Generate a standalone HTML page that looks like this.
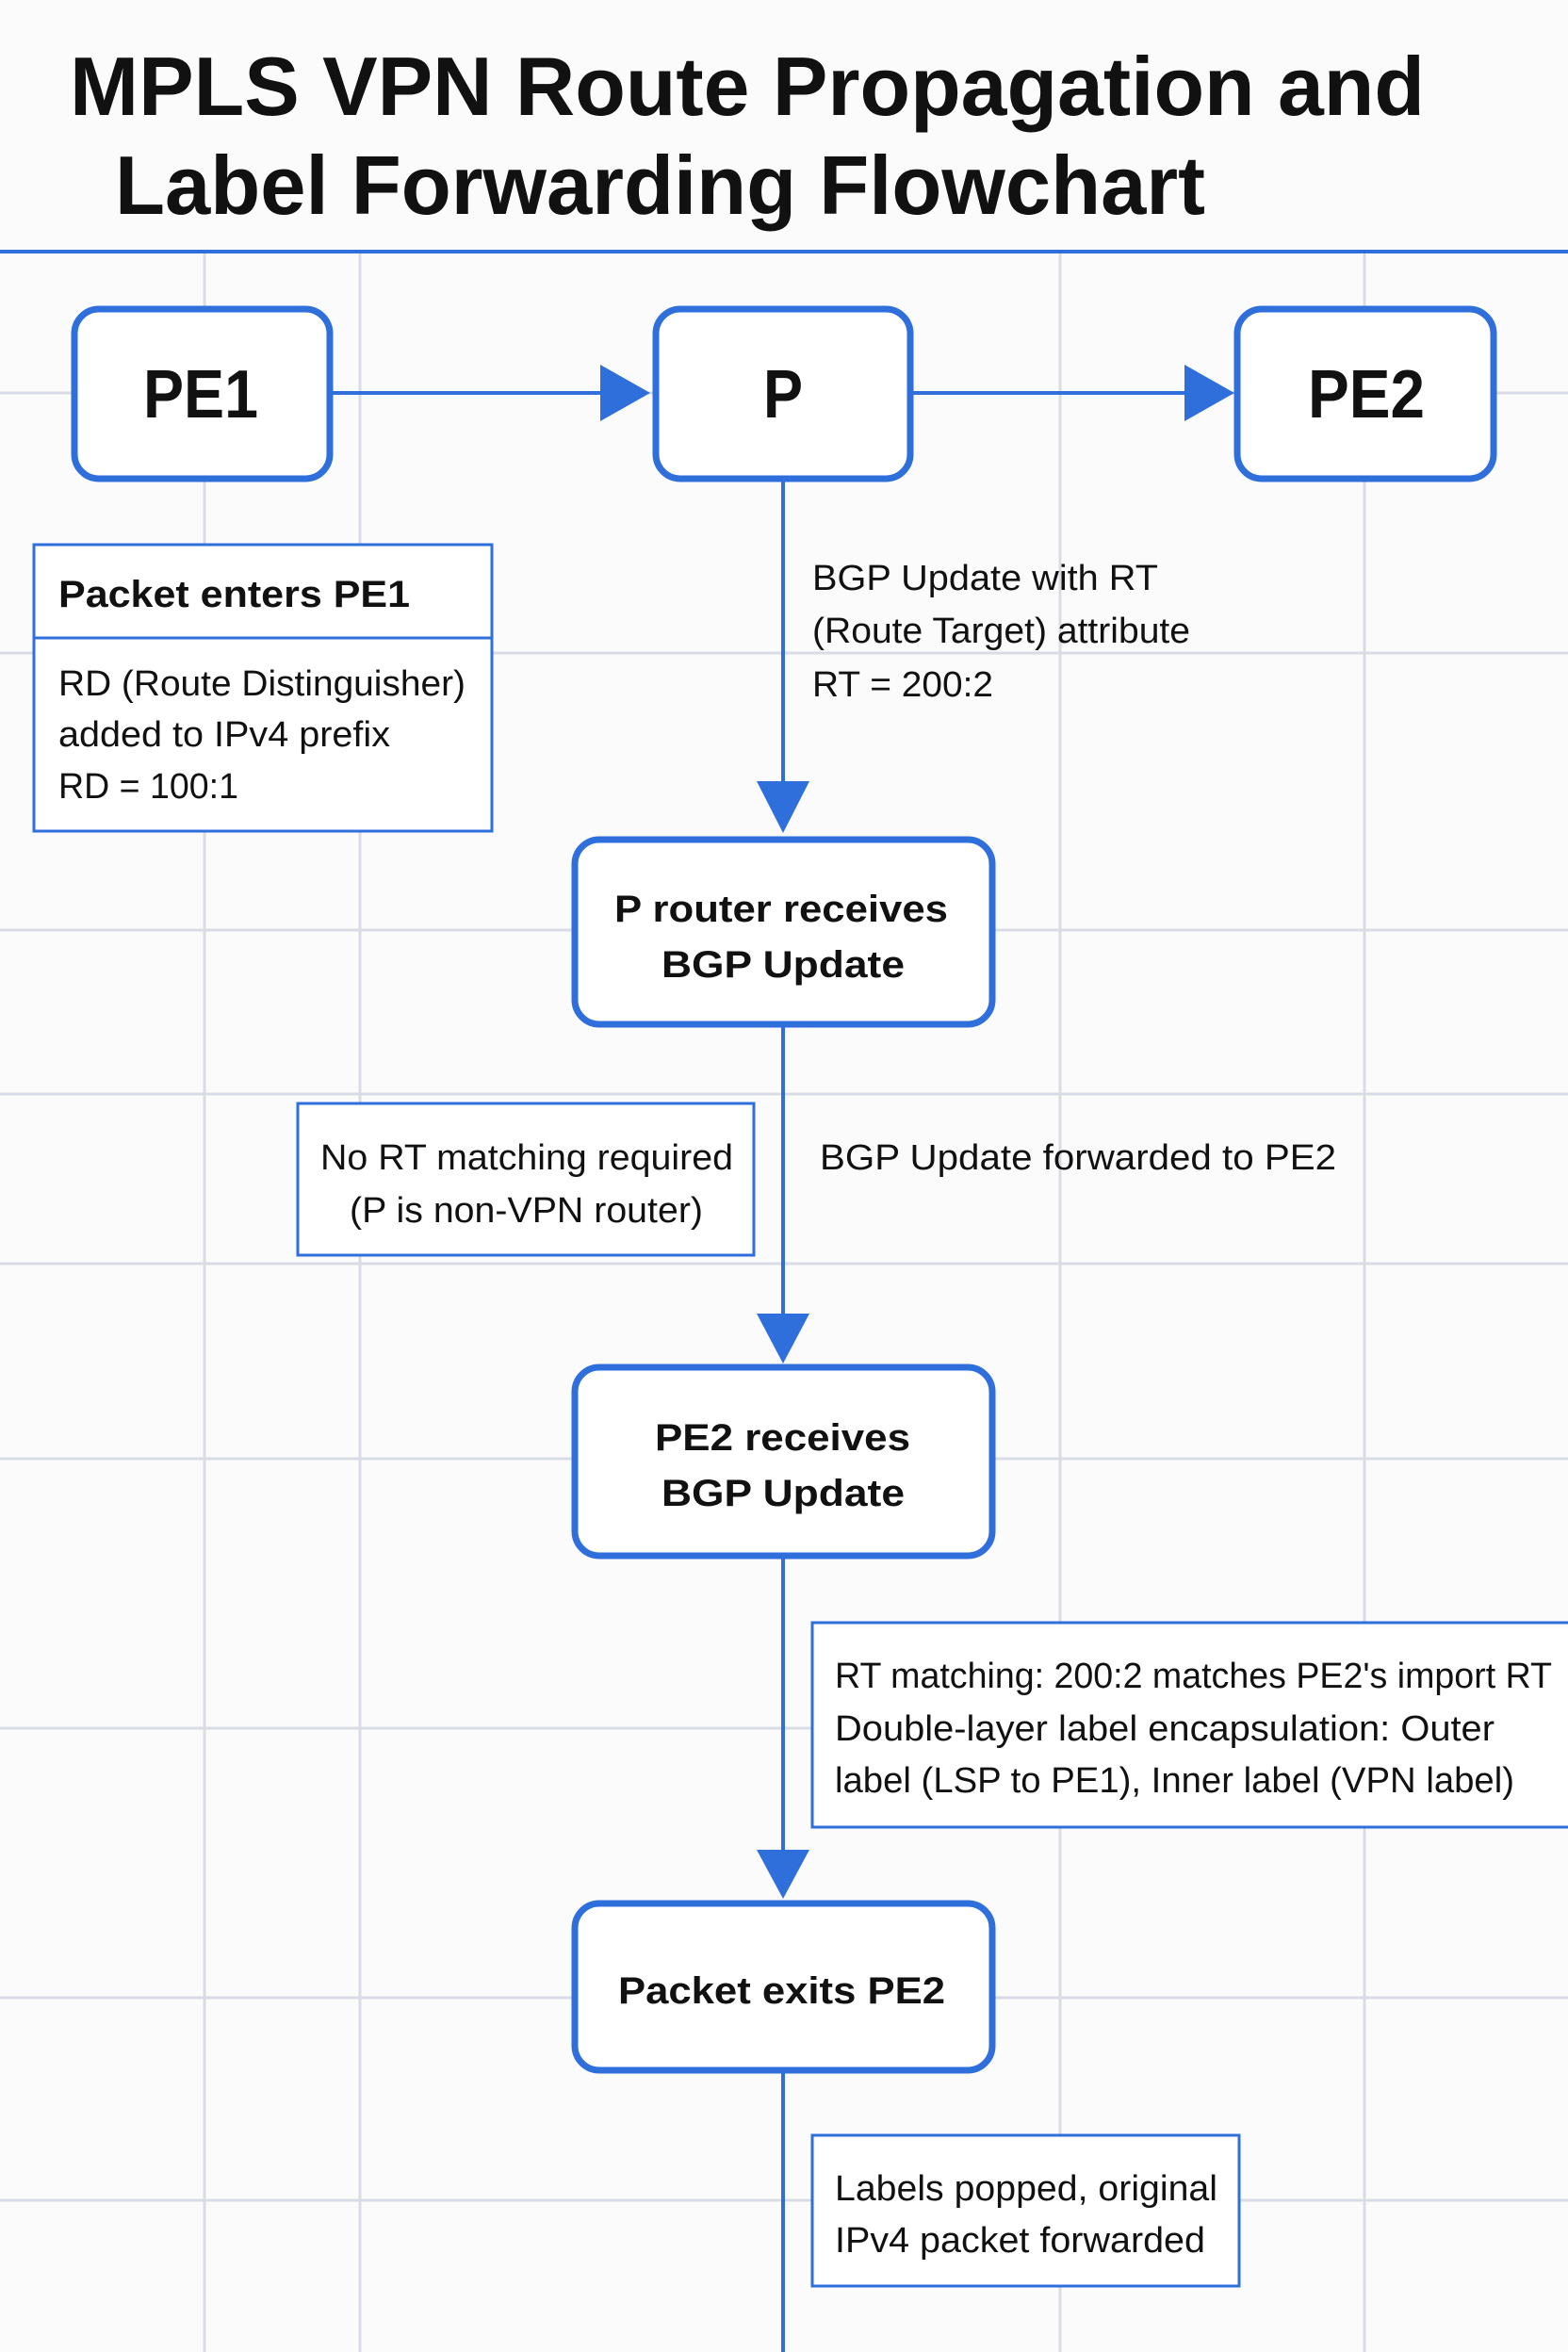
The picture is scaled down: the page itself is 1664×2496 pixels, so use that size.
<!DOCTYPE html>
<html><head><meta charset="utf-8"><style>
html,body{margin:0;padding:0;background:#fbfbfb}
svg{display:block}
text{font-family:"Liberation Sans",Arial,sans-serif;fill:#111}
.b{font-weight:bold}
</style></head><body>
<svg width="1664" height="2496" viewBox="0 0 1664 2496" xmlns="http://www.w3.org/2000/svg">
<rect width="1664" height="2496" fill="#fbfbfb"/>
<g stroke="#d9dce4" stroke-width="3">
<line x1="217" y1="267" x2="217" y2="2496"/>
<line x1="382" y1="267" x2="382" y2="2496"/>
<line x1="1125" y1="267" x2="1125" y2="2496"/>
<line x1="1448" y1="267" x2="1448" y2="2496"/>
<line x1="0" y1="417" x2="1664" y2="417"/>
<line x1="0" y1="693" x2="1664" y2="693"/>
<line x1="0" y1="987" x2="1664" y2="987"/>
<line x1="0" y1="1161" x2="1664" y2="1161"/>
<line x1="0" y1="1341" x2="1664" y2="1341"/>
<line x1="0" y1="1548" x2="1664" y2="1548"/>
<line x1="0" y1="1834" x2="1664" y2="1834"/>
<line x1="0" y1="2120" x2="1664" y2="2120"/>
<line x1="0" y1="2335" x2="1664" y2="2335"/>
</g>
<line x1="0" y1="267" x2="1664" y2="267" stroke="#2f6fdc" stroke-width="4"/>
<text class="b" x="74" y="122" font-size="88" textLength="1438" lengthAdjust="spacingAndGlyphs">MPLS VPN Route Propagation and</text>
<text class="b" x="122" y="227" font-size="88" textLength="1157" lengthAdjust="spacingAndGlyphs">Label Forwarding Flowchart</text>

<g stroke="#2f6fdc" fill="none">
<line x1="353" y1="417" x2="640" y2="417" stroke-width="4"/>
<line x1="969" y1="417" x2="1260" y2="417" stroke-width="4"/>
<line x1="831" y1="511" x2="831" y2="832" stroke-width="4"/>
<line x1="831" y1="1090" x2="831" y2="1396" stroke-width="4"/>
<line x1="831" y1="1654" x2="831" y2="1966" stroke-width="4"/>
<line x1="831" y1="2200" x2="831" y2="2496" stroke-width="4"/>
<rect x="79" y="328" width="271" height="180" rx="26" stroke-width="7" fill="#fff"/>
<rect x="696" y="328" width="270" height="180" rx="26" stroke-width="7" fill="#fff"/>
<rect x="1313" y="328" width="272" height="180" rx="26" stroke-width="7" fill="#fff"/>
<rect x="610" y="891" width="443" height="196" rx="26" stroke-width="7" fill="#fff"/>
<rect x="610" y="1451" width="443" height="200" rx="26" stroke-width="7" fill="#fff"/>
<rect x="610" y="2020" width="443" height="177" rx="26" stroke-width="7" fill="#fff"/>
<rect x="36" y="578" width="486" height="304" stroke-width="3" fill="#fff"/>
<line x1="36" y1="677" x2="522" y2="677" stroke-width="3"/>
<rect x="316" y="1171" width="484" height="161" stroke-width="3" fill="#fff"/>
<rect x="862" y="1722" width="810" height="217" stroke-width="3" fill="#fff"/>
<rect x="862" y="2266" width="453" height="160" stroke-width="3" fill="#fff"/>
</g>
<g fill="#2f6fdc">
<polygon points="637,387 690,417 637,447"/>
<polygon points="1257,387 1310,417 1257,447"/>
<polygon points="803,829 859,829 831,884"/>
<polygon points="803,1394 859,1394 831,1447"/>
<polygon points="803,1963 859,1963 831,2015"/>
</g>

<text class="b" x="152" y="443" font-size="72" textLength="122" lengthAdjust="spacingAndGlyphs">PE1</text>
<text class="b" x="810" y="443" font-size="72" textLength="42" lengthAdjust="spacingAndGlyphs">P</text>
<text class="b" x="1388" y="443" font-size="72" textLength="124" lengthAdjust="spacingAndGlyphs">PE2</text>

<text class="b" x="62" y="644" font-size="40" textLength="373" lengthAdjust="spacingAndGlyphs">Packet enters PE1</text>
<text x="62" y="738" font-size="38" textLength="432" lengthAdjust="spacingAndGlyphs">RD (Route Distinguisher)</text>
<text x="62" y="792" font-size="38" textLength="352" lengthAdjust="spacingAndGlyphs">added to IPv4 prefix</text>
<text x="62" y="847" font-size="38" textLength="191" lengthAdjust="spacingAndGlyphs">RD = 100:1</text>

<text x="862" y="626" font-size="38" textLength="367" lengthAdjust="spacingAndGlyphs">BGP Update with RT</text>
<text x="862" y="682" font-size="38" textLength="401" lengthAdjust="spacingAndGlyphs">(Route Target) attribute</text>
<text x="862" y="739" font-size="38" textLength="192" lengthAdjust="spacingAndGlyphs">RT = 200:2</text>

<text class="b" x="652" y="978" font-size="40" textLength="354" lengthAdjust="spacingAndGlyphs">P router receives</text>
<text class="b" x="702" y="1037" font-size="40" textLength="258" lengthAdjust="spacingAndGlyphs">BGP Update</text>

<text x="340" y="1241" font-size="38" textLength="438" lengthAdjust="spacingAndGlyphs">No RT matching required</text>
<text x="371" y="1297" font-size="38" textLength="375" lengthAdjust="spacingAndGlyphs">(P is non-VPN router)</text>
<text x="870" y="1241" font-size="38" textLength="548" lengthAdjust="spacingAndGlyphs">BGP Update forwarded to PE2</text>

<text class="b" x="695" y="1539" font-size="40" textLength="271" lengthAdjust="spacingAndGlyphs">PE2 receives</text>
<text class="b" x="702" y="1598" font-size="40" textLength="258" lengthAdjust="spacingAndGlyphs">BGP Update</text>

<text x="886" y="1791" font-size="38" textLength="761" lengthAdjust="spacingAndGlyphs">RT matching: 200:2 matches PE2's import RT</text>
<text x="886" y="1847" font-size="38" textLength="700" lengthAdjust="spacingAndGlyphs">Double-layer label encapsulation: Outer</text>
<text x="886" y="1902" font-size="38" textLength="721" lengthAdjust="spacingAndGlyphs">label (LSP to PE1), Inner label (VPN label)</text>

<text class="b" x="656" y="2126" font-size="40" textLength="347" lengthAdjust="spacingAndGlyphs">Packet exits PE2</text>

<text x="886" y="2335" font-size="38" textLength="406" lengthAdjust="spacingAndGlyphs">Labels popped, original</text>
<text x="886" y="2390" font-size="38" textLength="393" lengthAdjust="spacingAndGlyphs">IPv4 packet forwarded</text>
</svg>
</body></html>
